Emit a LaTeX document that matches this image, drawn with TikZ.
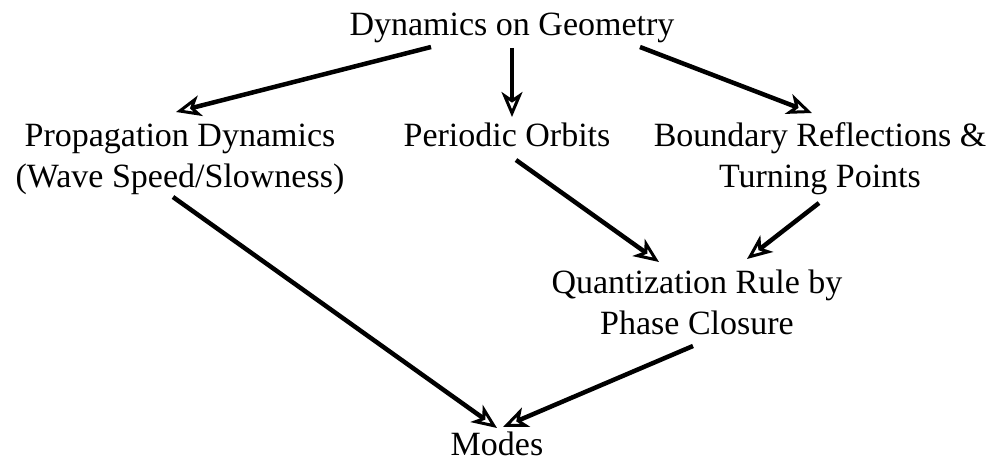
\documentclass[tikz,border=0pt]{standalone}
\usepackage{fontspec}
\setmainfont{Liberation Serif}
\usetikzlibrary{arrows.meta}
\begin{document}
\begin{tikzpicture}[x=1pt,y=-1pt,
  lbl/.style={inner sep=0pt, align=center, anchor=base, font=\fontsize{34}{41.5}\selectfont},
  conn/.style={line width=4.5pt, -{Stealth[open, length=25pt, width=21pt, inset=7pt, line width=3pt]}}]
\useasboundingbox (0,0) rectangle (994,462);
\node[lbl] (top) at (512,36) {Dynamics on Geometry};
\node[lbl] (prop) at (180,188) {Propagation Dynamics\\(Wave Speed/Slowness)};
\node[lbl] (orb) at (507,147) {Periodic Orbits};
\node[lbl] (bnd) at (820,188) {Boundary Reflections \&\\Turning Points};
\node[lbl] (qr) at (697,335) {Quantization Rule by\\Phase Closure};
\node[lbl] (modes) at (497,455) {Modes};
\draw[conn] ([shift={(-81,11)}]top.base) -- ([shift={(-4,-76)}]prop.base);
\draw[conn] ([shift={(0,12)}]top.base) -- ([shift={(5,-30)}]orb.base);
\draw[conn] ([shift={(128,11)}]top.base) -- ([shift={(-8,-75)}]bnd.base);
\draw[conn] ([shift={(9,13)}]orb.base) -- ([shift={(-38,-73)}]qr.base);
\draw[conn] ([shift={(-1,15)}]bnd.base) -- ([shift={(50,-76)}]qr.base);
\draw[conn] ([shift={(-7,9)}]prop.base) -- ([shift={(0,-27)}]modes.base);
\draw[conn] ([shift={(-4,11)}]qr.base) -- ([shift={(6,-28)}]modes.base);
\end{tikzpicture}
\end{document}
